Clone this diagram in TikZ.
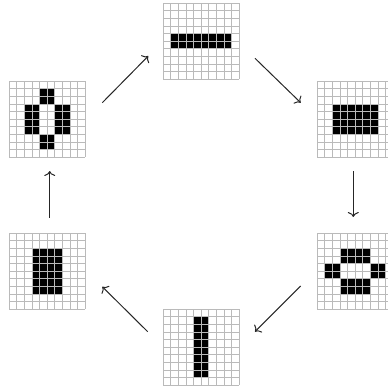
\documentclass[tikz,border=0pt]{standalone}
\usetikzlibrary{arrows.meta}

% one 10x10 board: shift, list of live blocks c1/r1/c2/r2
\newcommand{\board}[3]{%
  \begin{scope}[shift={#2}]
    \node[boardbox] (#1) at (38,38) {};
    \foreach \ca/\ra/\cb/\rb in {#3}
      \fill[alive] (\ca*7.6,\ra*7.6) rectangle ({(\cb+1)*7.6},{(\rb+1)*7.6});
    \foreach \k in {0,...,10} {
      \draw[cellgrid] (\k*7.6,0) -- (\k*7.6,76);
      \draw[cellgrid] (0,\k*7.6) -- (76,\k*7.6);
    }
  \end{scope}}

\begin{document}
\begin{tikzpicture}[
    x=1pt, y=-1pt,
    boardbox/.style={rectangle, minimum size=76pt, inner sep=0pt},
    cellgrid/.style={draw=black!27, line width=0.9pt},
    alive/.style={fill=black},
    flow/.style={draw=black!85, line width=1pt, -{To[length=5pt, width=11pt]}}
]
    \clip (0,0) rectangle (388,389);

    % the six boards, clockwise from the top
    \board{top}{(163.3,3.3)}{1/4/8/5}
    \board{right}{(317.3,81.3)}{2/3/7/6}
    \board{lowright}{(317.3,233.3)}{3/2/6/3, 1/4/2/5, 7/4/8/5, 3/6/6/7}
    \board{bottom}{(163.3,309.3)}{4/1/5/8}
    \board{lowleft}{(9.3,233.3)}{3/2/6/7}
    \board{upleft}{(9.3,81.3)}{4/1/5/2, 2/3/3/6, 6/3/7/6, 4/7/5/8}

    % arrow ends
    \coordinate (upleft-out) at (102.3,102.7);
    \coordinate (top-in) at (148.3,56);
    \coordinate (top-out) at (255,58.3);
    \coordinate (right-in) at (300.7,102.7);
    \coordinate (right-out) at (353.3,171);
    \coordinate (lowright-in) at (353.3,217);
    \coordinate (lowright-out) at (300.7,286);
    \coordinate (bottom-in) at (255,331.7);
    \coordinate (bottom-out) at (147.7,331.7);
    \coordinate (lowleft-in) at (102.3,286.7);
    \coordinate (lowleft-out) at (49.7,217.7);
    \coordinate (upleft-in) at (49.7,171);

    \draw[flow] (upleft-out) -- (top-in);
    \draw[flow] (top-out) -- (right-in);
    \draw[flow] (right-out) -- (lowright-in);
    \draw[flow] (lowright-out) -- (bottom-in);
    \draw[flow] (bottom-out) -- (lowleft-in);
    \draw[flow] (lowleft-out) -- (upleft-in);
\end{tikzpicture}
\end{document}
